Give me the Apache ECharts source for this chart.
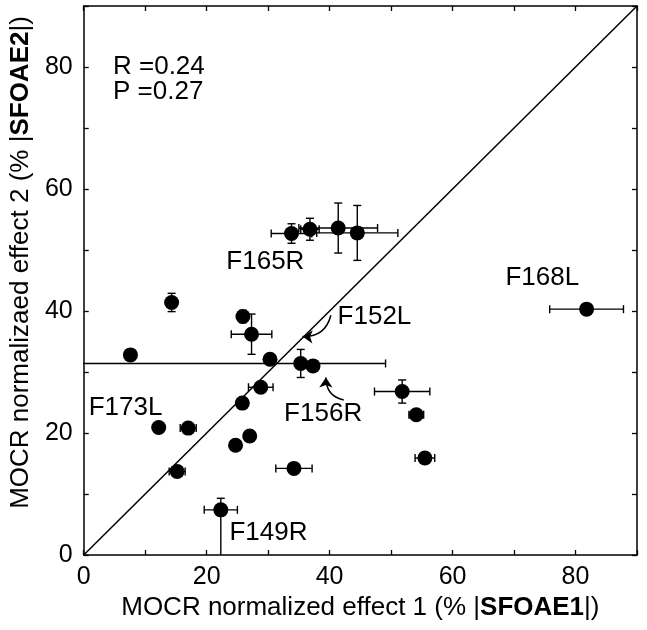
<!DOCTYPE html>
<html>
<head>
<meta charset="utf-8">
<script src="https://cdn.jsdelivr.net/npm/echarts@6/dist/echarts.min.js"></script>
<style>
  html, body { margin: 0; padding: 0; background: #fff; }
  #chart { width: 647px; height: 630px; }
</style>
</head>
<body>
<div id="chart"></div>
<script>
// effect 1 (x) and effect 2 (y), in % |SFOAE|
const effect1 = [33.8, 36.8, 41.4, 44.5, 81.8, 14.3, 25.9, 27.3, 7.6, 30.3, 35.3, 37.3,
                 28.8, 25.8, 51.8, 54.1, 12.2, 17.0, 24.7, 27.0, 15.2, 34.2, 55.5, 22.3];
const effect2 = [52.7, 53.4, 53.6, 52.8, 40.3, 41.4, 39.1, 36.2, 32.8, 32.1, 31.4, 31.0,
                 27.5, 24.9, 26.8, 23.0, 20.9, 20.8, 18.0, 19.5, 13.7, 14.2, 15.9, 7.4];
// error bars (lower / upper)
const err1Lo = [3.3, 1.5, 6.4, 6.6, 6.0, 0.5, 0.5, 3.3, 0.5, 0.3, 40, 0.3,
                2.0, 0.3, 4.5, 1.2, 0.3, 1.3, 0.3, 0.3, 1.3, 2.95, 1.6, 2.7];
const err1Hi = [3.3, 1.5, 6.4, 6.6, 6.0, 0.5, 0.5, 3.3, 0.5, 0.3, 13.8, 0.3,
                2.0, 0.3, 4.5, 1.2, 0.3, 1.3, 0.3, 0.3, 1.3, 2.95, 1.6, 2.7];
const err2Lo = [1.6, 1.8, 4.1, 4.5, 0.5, 1.5, 1.0, 3.3, 0.8, 0.3, 2.3, 0.3,
                0.3, 0.3, 1.9, 0.3, 0.3, 0.3, 0.3, 0.3, 0.3, 0.3, 0.3, 10];
const err2Hi = [1.6, 1.8, 4.1, 4.5, 0.5, 1.5, 1.0, 3.3, 0.8, 0.3, 2.3, 0.3,
                0.3, 0.3, 1.9, 0.3, 0.3, 0.3, 0.3, 0.3, 0.3, 0.3, 0.3, 1.9];

const unityLine = [[0, 0], [90, 90]];

// annotation labels (left edge, middle)
const noteNames = ['F165R', 'F168L', 'F152L', 'F156R', 'F173L', 'F149R'];
const noteX = [23.2, 68.6, 41.3, 32.6, 0.8, 23.7];
const noteY = [48.0, 45.4, 39.1, 23.1, 24.1, 3.6];

// arrows: [from, to]
const arrows = [
    [[40.2, 39.3], [35.6, 35.8]],
    [[42.3, 25.4], [39.4, 29.1]]
];

const statsText = ['R =0.24', 'P =0.27'];

const FONT = '"Liberation Sans", Arial, sans-serif';
const FS = 26;

let chart = echarts.init(document.getElementById('chart'));

const points = effect1.map((x, i) => [x, effect2[i], err1Lo[i], err1Hi[i], err2Lo[i], err2Hi[i]]);

function errorBars(params, api) {
    const x = api.value(0), y = api.value(1);
    const c = api.coord([x, y]);
    const left = api.coord([x - api.value(2), y]);
    const right = api.coord([x + api.value(3), y]);
    const bottom = api.coord([x, y - api.value(4)]);
    const top = api.coord([x, y + api.value(5)]);
    const cap = 4;
    const style = { stroke: '#000', lineWidth: 1.4 };
    const seg = (x1, y1, x2, y2) => ({ type: 'line', shape: { x1, y1, x2, y2 }, style });
    return {
        type: 'group',
        children: [
            seg(left[0], c[1], right[0], c[1]),
            seg(left[0], c[1] - cap, left[0], c[1] + cap),
            seg(right[0], c[1] - cap, right[0], c[1] + cap),
            seg(c[0], bottom[1], c[0], top[1]),
            seg(c[0] - cap, bottom[1], c[0] + cap, bottom[1]),
            seg(c[0] - cap, top[1], c[0] + cap, top[1])
        ]
    };
}

const axisCommon = {
    min: 0,
    max: 90,
    interval: 10,
    axisLine: { show: true, onZero: false, lineStyle: { color: '#000', width: 1.5 } },
    axisTick: { show: true, inside: true, length: 5, lineStyle: { color: '#000', width: 1.3 } },
    splitLine: { show: false }
};

let option = {
    animation: false,
    backgroundColor: '#fff',
    textStyle: { fontFamily: FONT },
    grid: { left: 82, right: 10, top: 6, bottom: 75 },
    xAxis: [
        Object.assign({}, axisCommon, {
            type: 'value',
            position: 'bottom',
            name: 'MOCR normalized effect 1 (% |{b|SFOAE1}|)',
            nameLocation: 'middle',
            nameGap: 36,
            nameTextStyle: {
                fontSize: FS, color: '#000', fontFamily: FONT,
                rich: { b: { fontSize: FS, fontWeight: 'bold', color: '#000', fontFamily: FONT } }
            },
            axisLabel: {
                fontSize: 25, color: '#000', margin: 10, fontFamily: FONT,
                formatter: v => (v % 20 === 0 && v < 90 ? String(v) : '')
            }
        }),
        Object.assign({}, axisCommon, {
            type: 'value',
            position: 'top',
            axisLabel: { show: false }
        })
    ],
    yAxis: [
        Object.assign({}, axisCommon, {
            type: 'value',
            position: 'left',
            name: 'MOCR normalizaed effect 2 (% |{b|SFOAE2}|)',
            nameLocation: 'middle',
            nameRotate: 90,
            nameGap: 40,
            nameTextStyle: {
                fontSize: FS, color: '#000', fontFamily: FONT,
                padding: [0, 0, 0, 36],
                rich: { b: { fontSize: FS, fontWeight: 'bold', color: '#000', fontFamily: FONT } }
            },
            axisLabel: {
                fontSize: 25, color: '#000', margin: 11, fontFamily: FONT,
                formatter: v => (v % 20 === 0 && v < 90 ? String(v) : '')
            }
        }),
        Object.assign({}, axisCommon, {
            type: 'value',
            position: 'right',
            axisLabel: { show: false }
        })
    ],
    series: [
        {
            type: 'line',
            data: unityLine,
            symbol: 'none',
            lineStyle: { color: '#000', width: 1.5 },
            z: 1
        },
        {
            type: 'custom',
            data: points,
            encode: { x: 0, y: 1 },
            renderItem: errorBars,
            clip: true,
            z: 2
        },
        {
            type: 'scatter',
            data: points.map(p => [p[0], p[1]]),
            symbol: 'circle',
            symbolSize: 15,
            itemStyle: { color: '#000', opacity: 1 },
            z: 3
        },
        {
            type: 'scatter',
            data: noteNames.map((n, i) => ({ name: n, value: [noteX[i], noteY[i]] })),
            symbolSize: 0,
            itemStyle: { opacity: 1 },
            label: {
                show: true,
                position: [0, 0],
                align: 'left',
                verticalAlign: 'middle',
                formatter: p => p.name,
                fontSize: FS,
                color: '#000',
                opacity: 1,
                fontFamily: FONT
            },
            z: 4
        },
        {
            type: 'lines',
            coordinateSystem: 'cartesian2d',
            data: arrows.map(a => ({ coords: a })),
            symbol: ['none', 'arrow'],
            symbolSize: 10,
            lineStyle: { color: '#000', width: 1.5, curveness: 0.4, opacity: 1 },
            z: 4
        }
    ],
    graphic: [
        {
            type: 'text',
            left: 113,
            top: 54,
            style: {
                text: statsText.join('\n'),
                fontSize: FS,
                lineHeight: 25,
                fill: '#000',
                fontFamily: FONT
            }
        }
    ]
};

chart.setOption(option);
</script>
</body>
</html>
